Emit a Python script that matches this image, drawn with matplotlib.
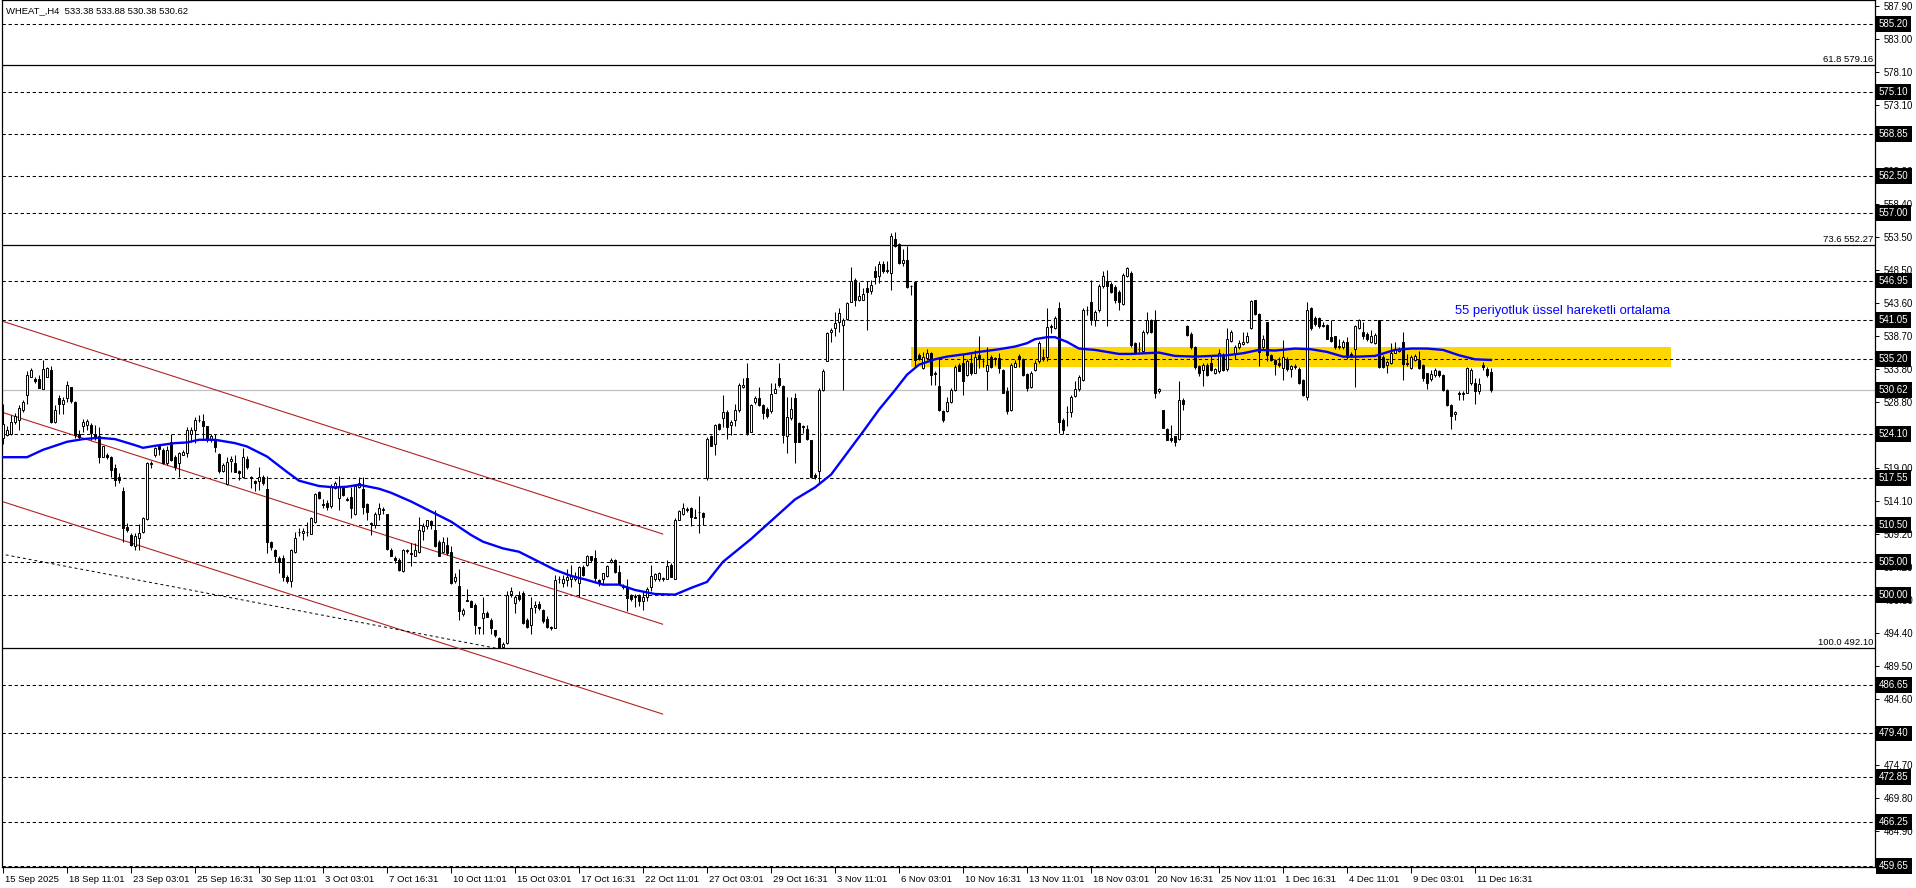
import numpy as np
import matplotlib.pyplot as plt
import matplotlib.transforms as mtransforms
from matplotlib.patches import Rectangle

plt.rcParams['font.family'] = ['Liberation Sans', 'DejaVu Sans']

# H4 candles, bar index 0 = 15 Sep 2025
opens = [
    523.5, 523.9, 524.0, 525.9, 526.2, 527.6, 529.9, 532.6, 532.2, 532.2,
    530.7, 532.5, 533.6, 525.9, 529.5, 528.5, 529.5, 531.0, 528.9, 524.1,
    525.3, 525.4, 525.4, 524.0, 523.7, 520.6, 521.0, 520.7, 519.0, 517.6,
    515.6, 510.2, 509.0, 507.4, 508.5, 509.4, 511.4, 519.7, 520.9, 522.2,
    521.7, 519.7, 522.9, 520.7, 519.8, 521.0, 521.2, 524.1, 524.6, 526.2,
    526.0, 525.2, 523.2, 523.2, 521.1, 518.6, 516.6, 520.1, 519.8, 518.6,
    517.6, 520.4, 517.6, 517.0, 517.0, 517.6, 515.8, 507.9, 506.7, 505.5,
    505.5, 502.7, 502.2, 506.4, 509.4, 509.3, 509.5, 509.2, 511.0, 515.4,
    513.6, 513.7, 513.3, 516.0, 514.5, 516.0, 514.3, 514.6, 512.1, 516.2,
    515.8, 513.6, 510.8, 510.5, 512.1, 512.8, 512.1, 506.8, 505.6, 505.3,
    503.7, 506.6, 506.3, 505.9, 506.4, 509.6, 510.3, 511.1, 509.7, 507.9,
    506.5, 507.5, 506.5, 502.1, 501.4, 497.2, 499.3, 499.2, 498.6, 495.3,
    496.6, 497.4, 496.3, 494.8, 493.7, 492.3, 492.9, 500.2, 498.9, 500.1,
    500.4, 496.3, 495.6, 498.2, 498.7, 497.8, 496.4, 495.3, 495.2, 502.4,
    501.9, 502.3, 502.5, 502.4, 501.8, 504.3, 504.5, 505.8, 505.5, 502.3,
    502.5, 502.9, 504.9, 505.3, 503.5, 501.4, 501.2, 500.1, 499.9, 500.1,
    499.1, 499.8, 501.3, 502.4, 502.5, 502.5, 502.5, 504.5, 502.5, 511.3,
    512.2, 512.9, 513.0, 511.7, 512.5, 512.3, 517.5, 523.7, 522.6, 525.6,
    526.5, 527.4, 525.4, 526.2, 527.6, 531.1, 532.4, 524.4, 528.9, 529.4,
    528.4, 527.8, 527.5, 530.2, 532.4, 531.2, 523.8, 526.4, 529.5, 525.7,
    525.2, 524.8, 523.1, 518.0, 518.5, 530.6, 535.0, 539.2, 539.8, 540.8,
    540.3, 541.2, 543.8, 547.0, 544.0, 544.1, 545.8, 545.4, 548.4, 547.6,
    549.4, 548.4, 548.0, 553.2, 552.4, 549.6, 550.0, 546.1, 546.8, 535.9,
    533.9, 535.4, 536.2, 533.1, 531.2, 527.5, 527.5, 528.9, 530.6, 534.4,
    534.6, 532.9, 534.6, 533.2, 535.8, 535.0, 533.5, 535.6, 535.4, 535.4,
    533.6, 530.5, 527.6, 534.1, 535.7, 535.2, 533.0, 531.0, 533.6, 534.9,
    535.4, 535.6, 540.0, 539.9, 542.8, 526.2, 527.4, 527.3, 529.7, 530.7,
    532.1, 542.6, 543.8, 541.1, 542.5, 546.1, 546.9, 546.4, 546.0, 545.3,
    543.5, 547.6, 548.0, 537.6, 536.8, 536.5, 539.2, 541.1, 541.0, 530.4,
    527.6, 524.8, 523.4, 523.7, 523.3, 529.2, 540.2, 539.0, 537.0, 534.2,
    533.6, 534.3, 534.6, 533.1, 533.4, 535.8, 533.7, 538.0, 536.0, 537.0,
    537.5, 537.8, 539.8, 544.0, 541.9, 537.0, 540.7, 535.8, 535.1, 534.7,
    533.9, 535.3, 533.7, 534.1, 533.8, 532.1, 529.6, 542.9, 541.3, 541.3,
    540.3, 540.3, 538.5, 538.6, 537.2, 537.0, 537.8, 536.0, 536.8, 539.8,
    539.3, 539.0, 537.8, 537.7, 541.0, 535.6, 534.3, 534.6, 536.2, 536.5,
    537.8, 534.6, 533.9, 535.1, 535.1, 534.3, 533.1, 532.2, 532.9, 533.4,
    532.9, 530.6, 528.4, 527.0, 530.1, 530.1, 530.2, 531.6, 531.7, 530.4,
    534.3, 533.8, 533.38]

highs = [
    528.5, 525.2, 526.9, 527.2, 528.4, 529.1, 533.4, 533.9, 532.5, 532.9,
    535.1, 534.1, 534.2, 528.4, 529.9, 529.6, 531.9, 531.1, 529.0, 524.7,
    526.3, 526.3, 525.7, 525.4, 525.1, 522.3, 521.2, 520.8, 519.6, 518.2,
    516.1, 510.8, 509.3, 509.3, 510.6, 511.7, 519.9, 520.1, 522.1, 522.6,
    521.9, 522.3, 524.1, 520.9, 521.4, 521.7, 525.1, 525.1, 526.6, 526.9,
    527.0, 525.3, 524.0, 524.1, 521.2, 519.7, 520.7, 520.8, 520.9, 518.7,
    521.9, 520.8, 517.8, 517.2, 519.2, 518.0, 517.8, 508.1, 506.9, 505.8,
    506.0, 503.0, 506.9, 509.4, 510.0, 510.0, 511.0, 511.7, 515.2, 515.5,
    514.3, 514.2, 516.6, 517.0, 517.8, 516.2, 514.7, 516.2, 516.5, 517.6,
    517.6, 513.7, 511.0, 512.5, 513.7, 513.2, 512.2, 507.0, 505.9, 505.5,
    506.9, 506.9, 507.8, 507.8, 511.7, 510.8, 511.3, 511.2, 512.8, 508.2,
    508.7, 508.7, 507.3, 503.3, 504.0, 498.1, 501.0, 499.3, 498.8, 495.3,
    499.8, 497.6, 496.6, 494.9, 493.8, 493.0, 500.6, 501.2, 500.1, 500.6,
    500.6, 496.6, 499.8, 499.1, 499.1, 497.9, 496.9, 495.4, 503.0, 502.9,
    503.0, 503.9, 504.5, 503.5, 504.4, 504.5, 506.0, 505.9, 506.7, 502.5,
    503.4, 504.5, 505.5, 505.4, 504.5, 501.7, 502.5, 500.2, 500.2, 500.2,
    500.6, 501.3, 504.5, 503.3, 503.5, 502.7, 505.3, 504.8, 511.5, 512.8,
    513.7, 513.2, 513.2, 512.9, 514.8, 512.5, 523.6, 523.9, 525.6, 525.7,
    529.9, 527.6, 526.2, 528.6, 531.6, 532.4, 534.6, 528.6, 529.7, 531.0,
    528.6, 528.1, 531.7, 531.6, 534.7, 531.4, 529.6, 529.6, 530.1, 525.9,
    525.4, 525.4, 523.2, 518.2, 530.9, 533.7, 539.3, 539.8, 542.2, 542.8,
    541.3, 543.8, 549.0, 547.3, 546.8, 545.9, 546.9, 547.0, 549.1, 549.9,
    549.9, 549.8, 554.1, 554.2, 552.6, 551.6, 552.1, 546.3, 546.9, 536.2,
    536.3, 536.7, 536.3, 533.5, 535.6, 527.6, 529.6, 530.9, 534.4, 534.6,
    536.0, 535.2, 536.0, 536.6, 538.6, 535.4, 537.1, 535.9, 535.6, 536.1,
    533.7, 531.1, 534.6, 535.1, 536.0, 535.4, 533.1, 533.4, 535.1, 537.9,
    536.7, 542.9, 540.5, 541.6, 543.8, 526.4, 528.2, 529.9, 531.9, 532.9,
    542.8, 543.1, 547.0, 542.6, 546.5, 548.4, 548.5, 546.8, 546.3, 545.5,
    548.1, 548.9, 548.4, 537.8, 537.8, 539.6, 542.3, 541.2, 542.6, 530.9,
    527.7, 524.9, 525.4, 523.8, 531.9, 529.4, 540.3, 539.2, 537.2, 534.4,
    534.7, 534.6, 535.8, 533.9, 536.8, 536.1, 539.8, 539.5, 537.3, 538.1,
    539.2, 539.3, 544.1, 544.1, 542.1, 538.8, 540.8, 536.0, 535.2, 535.6,
    538.1, 535.5, 534.4, 534.5, 534.0, 532.2, 543.8, 543.0, 541.6, 541.5,
    540.8, 540.5, 541.0, 538.7, 538.2, 538.1, 538.5, 536.3, 540.3, 541.2,
    540.7, 539.2, 539.5, 539.1, 541.1, 535.8, 535.1, 537.6, 537.8, 537.0,
    539.2, 536.0, 535.8, 536.0, 536.5, 534.5, 533.2, 533.6, 533.9, 533.6,
    533.0, 530.7, 528.5, 527.5, 530.4, 530.4, 534.0, 533.9, 532.4, 532.4,
    534.8, 534.0, 533.88]

lows = [
    522.5, 523.7, 523.9, 525.5, 524.7, 527.4, 528.6, 532.5, 531.6, 530.9,
    530.7, 532.5, 525.7, 525.7, 527.1, 527.1, 528.9, 528.7, 523.4, 523.2,
    524.4, 524.7, 523.2, 523.2, 519.8, 520.6, 520.4, 517.7, 516.3, 516.8,
    508.0, 509.4, 507.3, 506.7, 506.7, 509.3, 511.2, 519.0, 520.7, 520.9,
    519.6, 519.4, 520.1, 518.7, 517.7, 520.9, 520.7, 522.9, 522.7, 525.9,
    523.2, 522.9, 522.9, 521.4, 518.3, 518.4, 516.4, 518.4, 518.4, 517.2,
    517.5, 518.9, 516.0, 515.5, 515.7, 516.5, 506.3, 506.8, 505.0, 503.3,
    502.2, 501.8, 501.3, 506.3, 508.8, 508.3, 508.8, 509.2, 510.8, 514.3,
    513.0, 512.7, 513.0, 515.8, 512.7, 514.8, 514.0, 511.5, 512.0, 516.0,
    512.2, 511.2, 509.0, 510.0, 511.3, 512.2, 506.8, 505.8, 504.8, 503.7,
    503.5, 506.3, 504.4, 505.8, 506.3, 508.3, 509.9, 509.9, 507.2, 505.8,
    506.3, 506.0, 501.7, 501.8, 496.3, 496.9, 499.1, 498.2, 494.3, 494.2,
    494.3, 496.7, 494.3, 493.8, 492.1, 492.1, 492.8, 499.8, 497.3, 499.1,
    495.8, 495.1, 494.3, 497.3, 497.8, 495.9, 495.2, 494.8, 495.1, 501.8,
    501.3, 501.4, 501.3, 502.2, 499.8, 502.9, 504.4, 505.0, 502.2, 501.4,
    501.5, 502.8, 504.8, 503.4, 501.5, 501.0, 497.6, 499.2, 498.3, 498.4,
    497.8, 499.1, 500.7, 502.2, 502.1, 502.1, 502.4, 502.7, 502.4, 511.2,
    512.0, 512.5, 510.3, 511.5, 509.3, 510.5, 517.2, 522.2, 520.9, 524.7,
    525.1, 523.3, 523.9, 525.3, 527.4, 530.9, 523.9, 524.3, 528.6, 528.2,
    526.3, 526.4, 527.2, 530.1, 531.1, 522.7, 521.2, 526.2, 519.8, 522.8,
    524.2, 523.2, 517.5, 517.3, 516.8, 530.5, 535.0, 537.8, 538.7, 539.3,
    530.6, 541.1, 543.7, 543.2, 543.9, 544.0, 539.5, 544.9, 546.5, 546.6,
    548.0, 548.1, 545.6, 552.0, 549.4, 549.1, 545.8, 544.8, 534.1, 535.1,
    533.7, 535.1, 531.4, 531.4, 527.5, 525.8, 527.4, 528.7, 530.5, 533.4,
    529.9, 532.7, 532.9, 533.1, 533.9, 534.1, 530.6, 533.9, 534.4, 533.1,
    530.1, 527.1, 527.5, 534.0, 534.1, 532.7, 530.5, 530.9, 533.4, 534.7,
    534.9, 535.0, 539.1, 539.7, 524.2, 524.0, 525.2, 526.6, 529.6, 530.5,
    531.9, 541.8, 540.3, 540.1, 542.3, 545.9, 540.1, 545.1, 543.6, 542.5,
    543.3, 547.5, 537.0, 536.0, 536.3, 536.3, 539.0, 539.1, 529.4, 530.1,
    524.9, 523.1, 522.9, 522.3, 523.2, 527.6, 538.7, 536.8, 533.7, 532.7,
    531.2, 532.7, 533.4, 533.0, 533.2, 533.5, 533.5, 537.8, 535.2, 536.8,
    537.3, 537.7, 539.7, 541.8, 534.2, 536.7, 535.0, 534.9, 532.9, 534.0,
    532.1, 533.4, 532.5, 533.7, 531.5, 529.7, 529.2, 539.6, 540.2, 539.8,
    540.0, 538.2, 537.8, 536.8, 536.7, 536.7, 535.2, 535.5, 531.0, 539.7,
    538.3, 538.0, 537.6, 537.5, 533.9, 533.9, 533.2, 534.5, 536.1, 536.3,
    532.1, 534.2, 533.7, 535.0, 533.7, 532.0, 530.7, 532.0, 532.6, 532.6,
    530.5, 528.2, 524.8, 526.2, 529.1, 529.2, 530.1, 531.4, 528.5, 530.0,
    533.6, 532.6, 530.38]

closes = [
    525.5, 524.6, 525.9, 526.8, 527.9, 528.9, 532.9, 533.6, 532.0, 530.9,
    533.7, 533.9, 525.8, 527.6, 528.6, 529.2, 531.4, 529.0, 523.9, 523.6,
    525.8, 526.0, 524.2, 523.4, 520.7, 522.2, 520.6, 518.7, 517.2, 517.2,
    510.0, 509.7, 507.5, 508.9, 509.3, 511.5, 519.7, 519.6, 521.9, 521.8,
    519.8, 521.7, 520.2, 519.2, 521.3, 521.4, 524.6, 524.7, 526.1, 526.1,
    525.2, 523.1, 523.8, 522.1, 518.5, 519.4, 519.9, 520.4, 518.4, 518.3,
    520.6, 519.1, 517.5, 516.8, 517.7, 516.8, 508.0, 507.2, 505.9, 504.9,
    502.8, 502.2, 506.7, 508.5, 509.5, 509.6, 509.4, 511.5, 515.1, 514.5,
    513.4, 513.2, 516.2, 516.7, 516.2, 515.0, 514.2, 513.0, 516.3, 516.7,
    513.2, 512.5, 510.7, 512.2, 513.0, 512.9, 506.9, 505.9, 505.2, 503.8,
    506.7, 506.7, 506.2, 506.7, 509.7, 510.4, 511.2, 510.5, 507.4, 505.9,
    508.0, 506.3, 501.8, 502.7, 497.6, 497.8, 499.2, 498.3, 495.6, 495.2,
    497.3, 496.8, 495.1, 494.1, 492.2, 492.8, 500.1, 500.7, 499.7, 499.4,
    495.9, 495.3, 498.1, 498.6, 498.1, 496.2, 495.3, 495.1, 502.3, 502.5,
    502.4, 502.7, 503.0, 502.9, 504.2, 503.0, 505.8, 505.2, 502.6, 501.8,
    503.3, 504.4, 505.3, 503.5, 501.7, 501.3, 499.6, 499.4, 499.8, 499.1,
    499.7, 501.0, 502.9, 503.2, 503.3, 502.6, 504.4, 502.8, 511.3, 512.6,
    513.0, 512.8, 511.7, 511.6, 512.4, 511.7, 523.3, 522.3, 525.4, 524.8,
    527.4, 525.1, 525.9, 527.6, 531.4, 531.4, 524.2, 528.4, 529.5, 528.4,
    527.2, 526.7, 530.0, 530.7, 531.4, 523.9, 526.6, 527.8, 522.9, 522.9,
    525.1, 523.3, 517.7, 517.6, 530.6, 533.5, 539.1, 539.6, 540.6, 542.1,
    541.1, 543.6, 546.9, 544.1, 544.6, 545.0, 545.3, 546.3, 547.5, 549.4,
    548.3, 548.5, 553.6, 552.1, 549.5, 550.0, 546.0, 546.1, 535.1, 535.2,
    535.5, 536.2, 532.9, 533.0, 527.6, 526.2, 528.9, 530.6, 534.1, 533.5,
    531.9, 535.0, 533.1, 535.6, 535.2, 534.9, 534.4, 534.0, 535.3, 533.9,
    530.2, 527.5, 534.4, 534.7, 535.2, 532.9, 530.9, 533.2, 534.7, 537.7,
    535.5, 540.0, 540.1, 541.3, 525.8, 524.7, 527.3, 529.6, 530.7, 532.6,
    542.6, 542.5, 541.1, 542.3, 546.1, 547.6, 546.1, 545.3, 544.0, 543.8,
    547.8, 548.8, 537.3, 536.2, 536.7, 539.3, 541.0, 539.2, 530.1, 530.7,
    525.0, 523.2, 523.1, 522.8, 529.2, 528.5, 538.8, 537.0, 534.0, 533.1,
    534.3, 532.9, 533.6, 533.7, 536.2, 533.6, 538.3, 539.2, 537.0, 537.7,
    537.8, 538.6, 543.9, 542.0, 536.3, 538.2, 535.8, 535.1, 534.5, 534.4,
    535.5, 533.7, 534.2, 534.2, 531.7, 529.9, 542.5, 539.8, 540.5, 540.1,
    540.2, 538.3, 538.0, 537.0, 537.0, 537.8, 535.6, 535.9, 540.1, 541.1,
    538.7, 538.2, 538.7, 538.8, 534.0, 534.0, 534.8, 536.2, 536.8, 536.8,
    534.5, 534.5, 535.6, 535.7, 533.9, 532.4, 531.6, 533.0, 533.6, 532.9,
    530.6, 528.4, 526.7, 527.4, 530.0, 530.0, 533.9, 533.6, 530.5, 531.5,
    534.1, 532.9, 530.62]

# 55 period EMA at these bars
ema_idx = [0, 6, 10, 16, 20, 24, 28, 33, 35, 38, 43, 46, 49, 53, 58, 61, 66, 71, 74, 79, 83, 86, 89, 94,
           97, 102, 107, 112, 117, 120, 125, 129, 133, 138, 142, 146, 150, 154, 158, 163, 168, 172, 176, 180, 187,
           198, 203, 207, 211, 215, 219, 223, 226, 229, 233, 236, 241, 244, 249, 253, 256, 258, 261, 263, 266, 269, 273, 276, 279,
           282, 289, 293, 298, 302, 306, 310, 314, 318, 323, 327, 331, 335, 339, 343, 348, 352, 356, 360, 364, 368, 372]
ema_vals = [520.6, 520.6, 521.7, 522.9, 523.3, 523.5, 523.3, 522.4, 522.0, 522.3, 522.7, 522.8, 523.2, 523.2, 522.7, 522.2,
            520.7, 518.4, 517.1, 516.3, 516.1, 516.2, 516.5, 515.9,
            515.3, 514.0, 512.5, 511.0, 509.0, 508.0, 507.0, 506.5, 505.3, 503.8, 502.9, 502.3, 501.6, 501.6, 500.8,
            500.2, 500.1, 501.1, 502.0, 505.0, 508.4,
            514.3, 516.1, 518.0, 521.2, 524.4, 527.7, 530.6, 532.9, 534.4, 535.2, 535.6, 536.0, 536.3, 536.7, 537.1,
            537.6, 538.2, 538.5, 538.5, 537.8, 536.8, 536.6, 536.3, 536.0,
            536.0, 536.2, 535.7, 535.6, 535.7, 535.8, 536.1, 536.6, 536.5, 536.8, 536.7, 536.3, 535.6, 535.6, 535.7,
            536.6, 536.8, 536.8, 536.6, 535.8, 535.2, 535.1]

levels = [585.20, 575.10, 568.85, 562.50, 557.00, 546.95, 541.05, 535.20, 524.10, 517.55,
          510.50, 505.00, 500.00, 486.65, 479.40, 472.85, 466.25, 459.65]
last_price = 530.62
fib_levels = [579.16, 552.27, 492.10]
fib_labels = ['61.8 579.16', '73.6 552.27', '100.0 492.10']

# scale labels that stay visible next to the level boxes
ytick_vals = [587.90, 583.00, 578.10, 573.10, 568.20, 563.30, 558.40, 553.50, 548.50, 543.60, 538.70, 533.80,
              528.80, 519.00, 514.10, 509.20, 504.20, 499.30, 494.40, 489.50, 484.60, 474.70,
              469.80, 464.90]

xtick_labels = ['15 Sep 2025', '18 Sep 11:01', '23 Sep 03:01', '25 Sep 16:31', '30 Sep 11:01', '3 Oct 03:01',
                '7 Oct 16:31', '10 Oct 11:01', '15 Oct 03:01', '17 Oct 16:31', '22 Oct 11:01', '27 Oct 03:01',
                '29 Oct 16:31', '3 Nov 11:01', '6 Nov 03:01', '10 Nov 16:31', '13 Nov 11:01', '18 Nov 03:01',
                '20 Nov 16:31', '25 Nov 11:01', '1 Dec 16:31', '4 Dec 11:01', '9 Dec 03:01', '11 Dec 16:31']
xtick_bars = [16 * k for k in range(len(xtick_labels))]

# channel (bar, price) end points
chan_x = [-0.75, 164.9]
chan_upper = [541.0, 509.15]
chan_mid = [527.4, 495.7]
chan_lower = [514.1, 482.3]
trend_x = [-0.75, 123.4]
trend_y = [506.2, 492.1]

zone_x = [227, 417]
zone_y = [534.1, 537.0]

o = np.array(opens)
h = np.array(highs)
l = np.array(lows)
c = np.array(closes)
x = np.arange(len(c))

fig = plt.figure(figsize=(19.16, 8.88), dpi=100)
ax = fig.add_axes([2 / 1916, 21 / 888, 1873 / 1916, 867 / 888])
ax.set_xlim(-0.25, 468)
ax.set_ylim(459.49, 588.78)

ax.add_patch(Rectangle((zone_x[0], zone_y[0]), zone_x[1] - zone_x[0], zone_y[1] - zone_y[0],
                       facecolor='#FFD700', edgecolor='none', zorder=0))

for lvl in levels:
    ax.axhline(lvl, color='black', lw=0.75, ls=(0, (3.2, 2.6)), zorder=1)
ax.axhline(last_price, color='#C0C0C0', lw=0.9, zorder=1)

fib_tr = ax.get_yaxis_transform() + mtransforms.ScaledTranslation(-2 / 100, 1 / 100, fig.dpi_scale_trans)
for lvl, lab in zip(fib_levels, fib_labels):
    ax.axhline(lvl, color='black', lw=0.9, zorder=1)
    ax.text(1.0, lvl, lab, transform=fib_tr, ha='right', va='bottom', fontsize=6.8, color='black')

ax.plot(chan_x, chan_upper, color='#B22222', lw=0.8, zorder=2)
ax.plot(chan_x, chan_mid, color='#B22222', lw=0.8, zorder=2)
ax.plot(chan_x, chan_lower, color='#B22222', lw=0.8, zorder=2)
ax.plot(trend_x, trend_y, color='black', lw=0.7, ls=(0, (3, 3)), zorder=2)

# candles
ax.vlines(x, l, h, color='black', lw=0.75, zorder=3)
up = c >= o
body_bot = np.minimum(o, c)
body_h = np.maximum(np.abs(c - o), 0.06)
ax.bar(x, body_h, bottom=body_bot, width=0.55, color=np.where(up, 'white', 'black'),
       edgecolor='black', linewidth=0.7, zorder=4)

ax.plot(ema_idx, ema_vals, color='#0000FF', lw=1.7, zorder=5)

ax.text(363, 542.4, '55 periyotluk üssel hareketli ortalama', color='#0000FF', fontsize=9.4,
        ha='left', va='center', zorder=6)

# right price scale
ax.yaxis.tick_right()
ax.set_yticks(ytick_vals)
ax.set_yticklabels([f'{v:.2f}' for v in ytick_vals])
ax.tick_params(axis='y', direction='out', length=3, width=0.7, pad=3, labelsize=6.9, colors='black')

box_tr = ax.get_yaxis_transform() + mtransforms.ScaledTranslation(4 / 100, 0, fig.dpi_scale_trans)
for lvl in levels + [last_price]:
    ax.text(1.0, lvl, f'{lvl:.2f}', transform=box_tr, ha='left', va='center', fontsize=7.0, color='white',
            bbox=dict(boxstyle='square,pad=0.3', fc='black', ec='none'), clip_on=False, zorder=10)

# time scale
ax.set_xticks(xtick_bars)
ax.set_xticklabels(xtick_labels, ha='left')
ax.tick_params(axis='x', direction='out', length=4, width=0.7, pad=1.5, labelsize=6.8, colors='black')
shift = mtransforms.ScaledTranslation(2 / 100, 0, fig.dpi_scale_trans)
for lab in ax.get_xticklabels():
    lab.set_transform(lab.get_transform() + shift)

for s in ax.spines.values():
    s.set_color('black')
    s.set_linewidth(0.9)

fig.text(6 / 1916, 1 - 11 / 888, 'WHEAT_,H4  533.38 533.88 530.38 530.62', fontsize=6.8, va='center', ha='left')

fig.savefig('out.png', dpi=100, facecolor='white')
